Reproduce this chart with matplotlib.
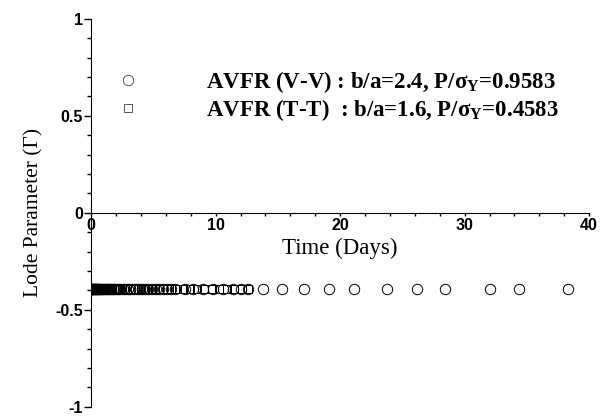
import matplotlib
matplotlib.use("Agg")
import matplotlib.pyplot as plt
from matplotlib.ticker import MultipleLocator

# AVFR (V-V): adaptive time steps, dense near t=0
vv_days = [0.0, 0.02, 0.05, 0.08, 0.12, 0.16, 0.2, 0.25, 0.3, 0.35, 0.4, 0.46,
           0.52, 0.58, 0.65, 0.72, 0.8, 0.88, 0.96, 1.05, 1.15, 1.25, 1.36, 1.48,
           1.6, 1.73, 1.87, 2.02, 2.18, 2.35, 2.53, 2.72, 2.92, 3.13, 3.35, 3.58,
           3.82, 4.07, 4.33, 4.6, 4.88, 5.17, 5.47, 5.78, 6.1, 6.42, 6.75, 7.55,
           8.2, 9.0, 9.8, 10.6, 11.4, 12.0, 12.6, 13.8, 15.3, 17.1, 19.1, 21.1,
           23.8, 26.2, 28.4, 32.0, 34.4, 38.3]
vv_lode = [-0.39] * len(vv_days)

# AVFR (T-T)
tt_days = [0.0, 0.03, 0.06, 0.1, 0.14, 0.18, 0.23, 0.28, 0.33, 0.38, 0.44, 0.5,
           0.56, 0.63, 0.7, 0.77, 0.85, 0.93, 1.02, 1.11, 1.21, 1.32, 1.44, 1.56,
           1.7, 1.84, 1.99, 2.15, 2.32, 2.5, 2.69, 2.89, 3.1, 3.32, 3.55, 3.79,
           4.04, 4.3, 4.57, 4.85, 5.14, 5.44, 5.75, 6.07, 6.4, 6.9, 7.4, 7.9,
           8.5, 9.1, 9.7, 10.3, 10.9, 11.5, 12.1, 12.6]
tt_lode = [-0.39] * len(tt_days)

labels = [r"AVFR (V-V) : b/a=2.4, P/$\sigma_\mathrm{Y}$=0.9583",
          r"AVFR (T-T)  : b/a=1.6, P/$\sigma_\mathrm{Y}$=0.4583"]

plt.rcParams["mathtext.fontset"] = "custom"
plt.rcParams["mathtext.rm"] = "Liberation Serif:bold"
plt.rcParams["mathtext.it"] = "Liberation Serif:bold"
plt.rcParams["mathtext.bf"] = "Liberation Serif:bold"

fig = plt.figure(figsize=(6.08, 4.16), dpi=100)
ax = fig.add_axes([0.150, 0.022, 0.819, 0.9327])

ax.plot(vv_days, vv_lode, "o", ms=7.5, mfc="none", mec="black", mew=0.7,
        label=labels[0])
ax.plot(tt_days, tt_lode, "s", ms=5.5, mfc="none", mec="black", mew=0.7,
        label=labels[1])

ax.set_xlim(0, 40)
ax.set_ylim(-1, 1)
ax.spines["left"].set_position(("data", 0))
ax.spines["bottom"].set_position(("data", 0))
ax.spines["top"].set_visible(False)
ax.spines["right"].set_visible(False)

ax.xaxis.set_major_locator(MultipleLocator(10))
ax.xaxis.set_minor_locator(MultipleLocator(2))
ax.yaxis.set_major_locator(MultipleLocator(0.5))
ax.yaxis.set_minor_locator(MultipleLocator(0.1))
ax.xaxis.set_major_formatter(lambda v, p: f"{v:g}")
ax.yaxis.set_major_formatter(lambda v, p: f"{v:g}")
ax.tick_params(axis="x", which="both", direction="out", length=2.5, width=1, pad=1)
ax.tick_params(axis="y", which="major", direction="out", length=5, width=1, pad=1)
ax.tick_params(axis="y", which="minor", direction="out", length=3, width=1)
for t in ax.get_xticklabels() + ax.get_yticklabels():
    t.set_fontfamily("Liberation Sans")
    t.set_fontweight("bold")
    t.set_fontsize(11.5)

ax.set_xlabel("Time (Days)", family="Liberation Serif", fontsize=16.5)
ax.xaxis.set_label_coords(0.5, 0.436)
ax.set_ylabel("Lode Parameter (Γ)", family="Liberation Serif", fontsize=15.5)
ax.yaxis.set_label_coords(-0.096, 0.5)

leg = ax.legend(loc="upper left", bbox_to_anchor=(0.01, 0.924), frameon=False,
                handlelength=1.0, handletextpad=2.9, labelspacing=0.08,
                prop={"family": "Liberation Serif", "weight": "bold", "size": 16.5})
for h in leg.legend_handles:
    h.set_markeredgecolor("#555555")

fig.savefig("out.png", dpi=100)
